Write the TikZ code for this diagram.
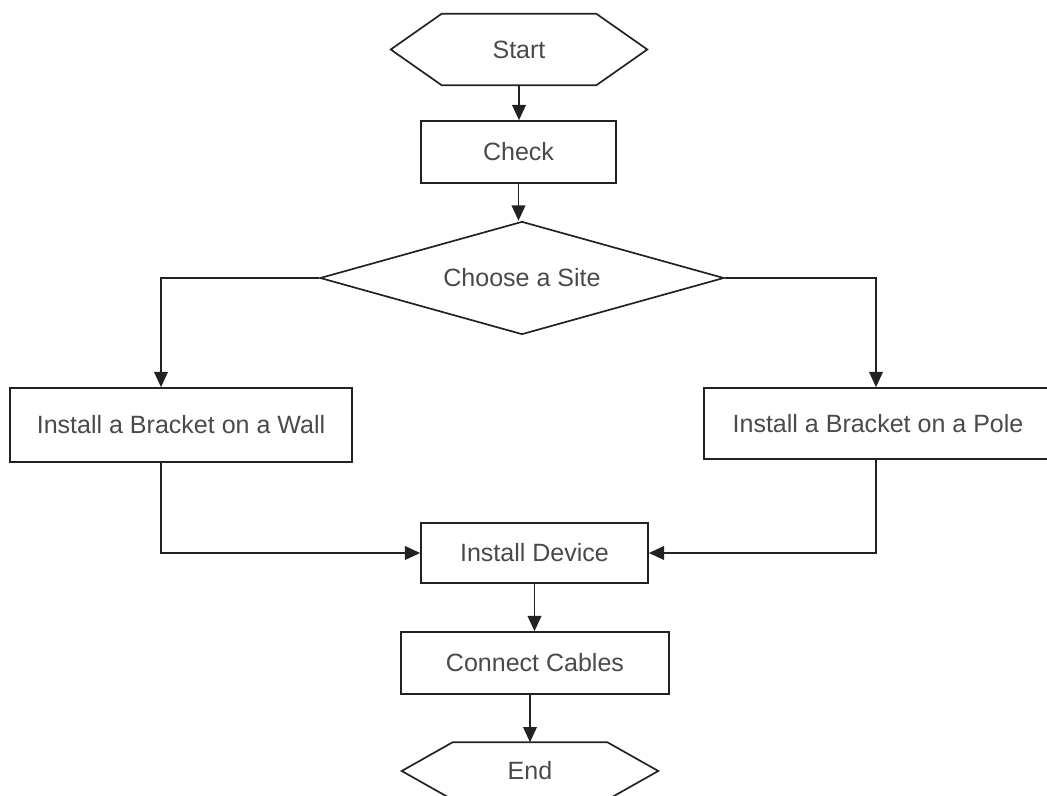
\documentclass[tikz,border=0pt]{standalone}
\usepackage{fontspec}
\setmainfont{Liberation Sans}
\usepackage{tikz}
\usetikzlibrary{shapes.geometric,arrows.meta,positioning,calc}

\definecolor{linegray}{HTML}{222222}
\definecolor{textgray}{HTML}{4A4A4A}

% hexagon frame round a plain node
\newcommand{\hexframe}[1]{%
  \draw[linegray, line width=1.2pt] (#1.west) -- ([xshift=1.275cm]#1.north west) -- ([xshift=-1.275cm]#1.north east)
    -- (#1.east) -- ([xshift=-1.275cm]#1.south east) -- ([xshift=1.275cm]#1.south west) -- cycle;}

\begin{document}
\begin{tikzpicture}[
    label text/.style={text=textgray, font=\fontsize{17.8}{20}\selectfont},
    box/.style={label text, draw=linegray, line width=1.2pt, rectangle},
    terminal/.style={label text, rectangle, minimum width=6.4cm},
    flow/.style={draw=linegray, line width=1.2pt, -{Triangle[length=0.38cm, width=0.34cm]}}]
    \useasboundingbox (0, 0) rectangle (26.175, -19.9);
    \fill[white] (0, 0) rectangle (26.175, -19.9);

    \node[terminal, minimum height=1.775cm] (start) at (12.975, -1.2375) {Start};
    \node[box, minimum width=4.875cm, minimum height=1.55cm] (check) at (12.9625, -3.8) {Check};
    \node[box, diamond, aspect=3.58, minimum width=10.1cm, minimum height=2.825cm] (site) at (13.05, -6.95) {Choose a Site};
    \node[box, minimum width=8.55cm, minimum height=1.85cm] (wall) at (4.525, -10.625) {Install a Bracket on a Wall};
    \node[box, minimum width=8.7cm, minimum height=1.775cm] (pole) at (21.95, -10.5875) {Install a Bracket on a Pole};
    \node[box, minimum width=5.675cm, minimum height=1.5cm] (device) at (13.3625, -13.825) {Install Device};
    \node[box, minimum width=6.7cm, minimum height=1.55cm] (cables) at (13.375, -16.575) {Connect Cables};
    \node[terminal, minimum height=1.425cm] (end) at (13.25, -19.275) {End};
    \hexframe{start}
    \hexframe{end}

    \draw[flow] (start.south) -- (start.south |- check.north);
    \draw[flow] (check.south) -- (check.south |- site.north);
    \draw[flow] (site.west) -| ([xshift=-0.5cm]wall.north);
    \draw[flow] (site.east) -| ([xshift=-0.05cm]pole.north);
    \draw[flow] ([xshift=-0.5cm]wall.south) |- (device.west);
    \draw[flow] ([xshift=-0.05cm]pole.south) |- (device.east);
    \draw[flow] (device.south) -- (device.south |- cables.north);
    \draw[flow] (end.north |- cables.south) -- (end.north);
  \end{tikzpicture}
\end{document}
